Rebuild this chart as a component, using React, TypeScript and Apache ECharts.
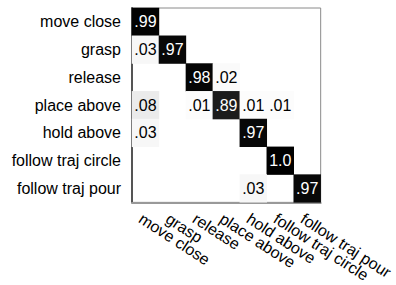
import React, { useEffect, useRef } from "react";
import * as echarts from "echarts";

const categories = [
  "move close",
  "grasp",
  "release",
  "place above",
  "hold above",
  "follow traj circle",
  "follow traj pour",
];

// rows = true class, columns = predicted class
const matrix: number[][] = [
  [0.99, 0, 0, 0, 0, 0, 0],
  [0.03, 0.97, 0, 0, 0, 0, 0],
  [0, 0, 0.98, 0.02, 0, 0, 0],
  [0.08, 0, 0.01, 0.89, 0.01, 0.01, 0],
  [0.03, 0, 0, 0, 0.97, 0, 0],
  [0, 0, 0, 0, 0, 1.0, 0],
  [0, 0, 0, 0, 0.03, 0, 0.97],
];

const fmt = (v: number) => (v >= 1 ? "1.0" : v.toFixed(2).replace(/^0/, ""));

export default function App() {
  const ref = useRef<HTMLDivElement>(null);
  useEffect(() => {
    if (!ref.current) return;
    const chart = echarts.init(ref.current, null, { renderer: "svg" });
    const data: any[] = [];
    matrix.forEach((row, r) =>
      row.forEach((v, c) => {
        if (v > 0) {
          data.push({
            value: [c, r, v],
            label: { color: v > 0.5 ? "#ffffff" : "#000000" },
          });
        }
      })
    );
    const font = "'Liberation Sans', Arial, Helvetica, sans-serif";
    chart.setOption({
      animation: false,
      textStyle: { fontFamily: font },
      grid: {
        left: 132,
        top: 8,
        width: 193,
        height: 195,
        show: true,
        borderColor: "#8a8a8a",
        borderWidth: 1,
        backgroundColor: "transparent",
      },
      xAxis: {
        type: "category",
        data: categories,
        axisTick: { show: false },
        axisLine: { show: true, lineStyle: { color: "#999999", width: 2 } },
        splitLine: { show: false },
        axisLabel: {
          rotate: -33,
          interval: 0,
          fontSize: 16,
          color: "#000000",
          margin: 18,
          padding: [0, 0, 0, -6],
          fontFamily: font,
        },
      },
      yAxis: {
        type: "category",
        data: categories,
        inverse: true,
        axisTick: { show: false },
        axisLine: { show: true, lineStyle: { color: "#555555", width: 2 } },
        splitLine: { show: false },
        axisLabel: {
          interval: 0,
          fontSize: 16,
          color: "#000000",
          margin: 11,
          fontFamily: font,
        },
      },
      visualMap: {
        show: false,
        min: 0,
        max: 1,
        dimension: 2,
        inRange: { color: ["#ffffff", "#000000"] },
      },
      series: [
        {
          type: "heatmap",
          data,
          label: {
            show: true,
            fontSize: 16,
            fontFamily: font,
            formatter: (p: any) => fmt(p.value[2]),
          },
          itemStyle: { borderWidth: 0 },
          emphasis: { disabled: true },
        },
      ],
    });
    return () => chart.dispose();
  }, []);
  return (
    <div
      ref={ref}
      style={{ position: "fixed", left: 0, top: 0, width: 396, height: 285, background: "#fff" }}
    />
  );
}
